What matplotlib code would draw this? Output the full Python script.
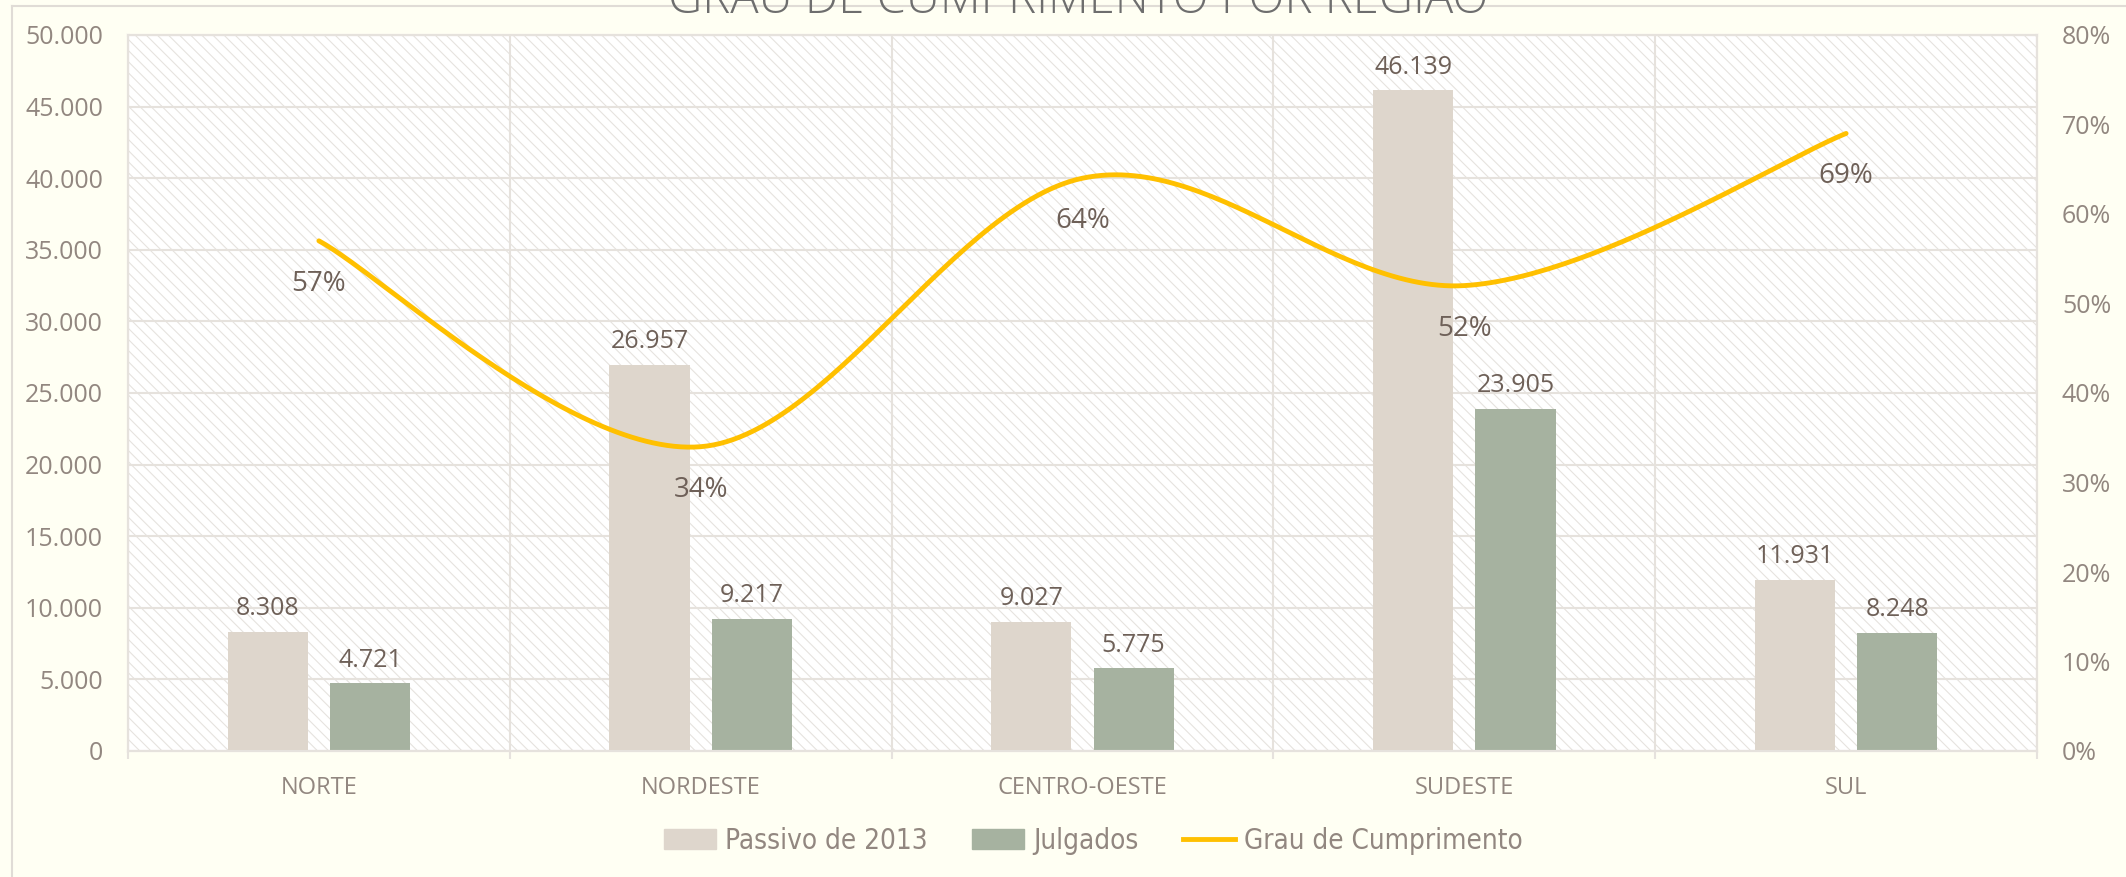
import numpy as np
import matplotlib
matplotlib.use('agg')
import matplotlib.pyplot as plt
from matplotlib.patches import Rectangle, Patch
from matplotlib.lines import Line2D

# data
regioes = ['NORTE', 'NORDESTE', 'CENTRO-OESTE', 'SUDESTE', 'SUL']
passivo = [8308, 26957, 9027, 46139, 11931]
julgados = [4721, 9217, 5775, 23905, 8248]
grau = [0.57, 0.34, 0.64, 0.52, 0.69]

titulo = 'GRAU DE CUMPRIMENTO POR REGIÃO'
nomes = ['Passivo de 2013', 'Julgados', 'Grau de Cumprimento']

bg = '#FFFFF3'
c_passivo = '#DED6CC'
c_julgados = '#A6B2A0'
c_linha = '#FFC000'
c_grid = '#E6E2DD'
c_tick = '#928780'
c_label = '#6E6058'

plt.rcParams['font.family'] = ['Open Sans', 'DejaVu Sans']
plt.rcParams['hatch.linewidth'] = 0.8

fig = plt.figure(figsize=(21.26, 8.77), dpi=100, facecolor=bg)
W, H = 2126, 877
ax = fig.add_axes([128 / W, 1 - 751 / H, (2037 - 128) / W, (751 - 35) / H])
ax2 = ax.twinx()

x = np.arange(len(regioes))

# hatched plot area background
ax.set_facecolor('white')
ax.add_patch(Rectangle((0, 0), 1, 1, transform=ax.transAxes, facecolor='white',
                       edgecolor='#E6E3DF', hatch='\\\\\\', lw=0, zorder=0.1))

w = 0.21
off = 0.134
b1 = ax.bar(x - off, passivo, w, color=c_passivo, zorder=2)
b2 = ax.bar(x + off, julgados, w, color=c_julgados, zorder=2)

def fmt(v):
    return f'{v:,.0f}'.replace(',', '.')

for bars, vals in ((b1, passivo), (b2, julgados)):
    for r, v in zip(bars, vals):
        ax.annotate(fmt(v), (r.get_x() + r.get_width() / 2, v), xytext=(0, 12),
                    textcoords='offset points', ha='center', va='baseline',
                    fontsize=18, color=c_label, zorder=5)

ax.set_xlim(-0.5, len(regioes) - 0.5)
ax.set_ylim(0, 50000)
ax.set_yticks(np.arange(0, 50001, 5000))
ax.set_yticklabels([fmt(v) for v in np.arange(0, 50001, 5000)])
ax.set_xticks(x)
ax.set_xticklabels(regioes)
ax.set_xticks(np.arange(-0.5, len(regioes)), minor=True)
ax.tick_params(axis='x', which='major', length=0, pad=18, labelsize=17, labelcolor=c_tick)
ax.tick_params(axis='x', which='minor', length=6, width=1.5, color=c_grid)
ax.tick_params(axis='y', length=0, pad=18, labelsize=18, labelcolor=c_tick)
ax.set_axisbelow(True)
ax.grid(axis='y', color=c_grid, lw=1.5, zorder=0.5)
ax.grid(axis='x', which='minor', color=c_grid, lw=1.5, zorder=0.5)

# smoothed line (Catmull-Rom style, like Excel smoothing)
pts = np.column_stack([x, grau]).astype(float)
n = len(pts)
xs, ys = [], []
t = np.linspace(0, 1, 60)
for i in range(n - 1):
    p0 = pts[i]
    p3 = pts[i + 1]
    pm = pts[max(i - 1, 0)]
    pp = pts[min(i + 2, n - 1)]
    p1 = p0 + (p3 - pm) / 6
    p2 = p3 - (pp - p0) / 6
    seg = ((1 - t) ** 3)[:, None] * p0 + (3 * (1 - t) ** 2 * t)[:, None] * p1 \
        + (3 * (1 - t) * t ** 2)[:, None] * p2 + (t ** 3)[:, None] * p3
    xs.extend(seg[:, 0])
    ys.extend(seg[:, 1])
ax2.plot(xs, ys, color=c_linha, lw=3.5, solid_capstyle='round', zorder=4)
for xi, g in zip(x, grau):
    ax2.annotate(f'{g:.0%}', (xi, g), xytext=(0, -36), textcoords='offset points',
                 ha='center', va='baseline', fontsize=20, color=c_label, zorder=5)

ax2.set_ylim(0, 0.8)
ax2.set_yticks(np.arange(0, 0.81, 0.1))
ax2.set_yticklabels([f'{v:.0f}%' for v in np.arange(0, 81, 10)])
ax2.tick_params(axis='y', length=0, pad=18, labelsize=18, labelcolor=c_tick)

for a in (ax, ax2):
    for s in a.spines.values():
        s.set_color(c_grid)
        s.set_linewidth(1.5)

# outer frame and title
fig.add_artist(Line2D([12 / W, 12 / W], [0, 1 - 6 / H], color='#E0DCD6', lw=1.5))
fig.add_artist(Line2D([12 / W, 1], [1 - 6 / H, 1 - 6 / H], color='#E0DCD6', lw=1.5))
fig.text(1078 / W, 1 - 13 / H, titulo, ha='center', va='baseline', fontsize=34,
         color='#6E6E6E', fontweight='light')

handles = [Patch(color=c_passivo), Patch(color=c_julgados),
           Line2D([], [], color=c_linha, lw=3.5)]
fig.legend(handles, nomes, loc='center', bbox_to_anchor=(1093 / W, 1 - 841 / H),
           ncol=3, frameon=False, handlelength=1.9, handleheight=0.72,
           handletextpad=0.3, columnspacing=1.6,
           prop={'family': 'DejaVu Sans', 'stretch': 'condensed', 'size': 20},
           labelcolor=c_tick)

fig.savefig('out.png', dpi=100, facecolor=bg)
